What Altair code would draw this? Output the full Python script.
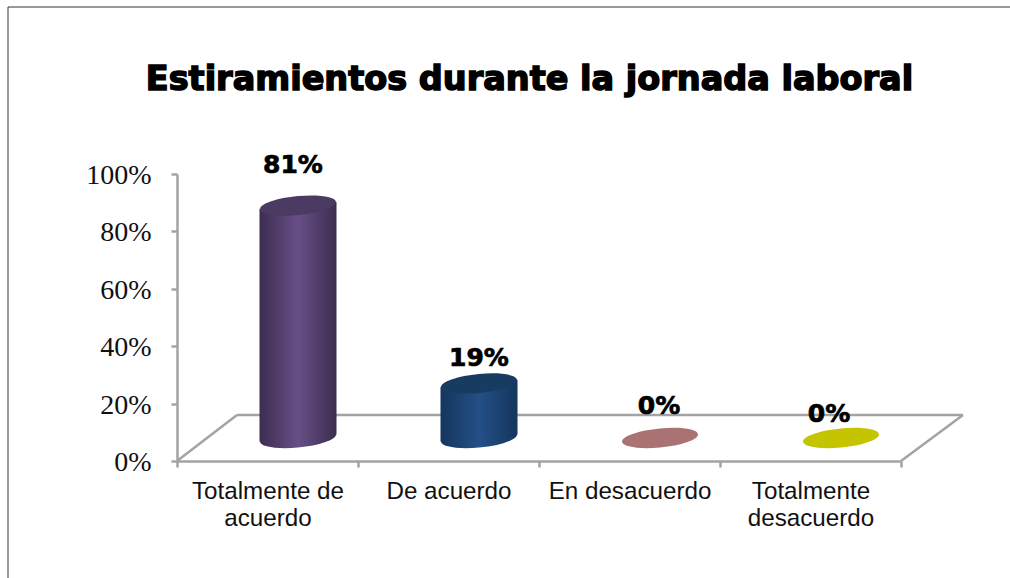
import altair as alt
import pandas as pd

categories = ["Totalmente de acuerdo", "De acuerdo", "En desacuerdo", "Totalmente desacuerdo"]
shares = [0.81, 0.19, 0.0, 0.0]
y_ticks = [0, 0.2, 0.4, 0.6, 0.8, 1.0]
title_text = "Estiramientos durante la jornada laboral"

# edge shade, centre shade and lid colour of each cylinder
edge_colors = ["#3c2d4f", "#14365e", "#a97373", "#c4c400"]
mid_colors = ["#684f88", "#245088", "#a97373", "#c4c400"]
lid_colors = ["#4b3a61", "#183b62", "#a97373", "#c4c400"]

# nudges that place each value label over its cylinder
label_dx = [25.5, 30.5, 29.5, 18.5]
label_dy = [-64, -48, -55, -47]

W, H = 724, 287
DEPTH_X, DEPTH_Y = 30.5, -23   # floor-centre shift of the pseudo-3D columns
RADIUS = 38
TILT = 3.5
GREY = "#a3a3a3"

table = pd.DataFrame({"categoria": categories, "valor": shares, "base": [0.0] * len(categories)})
x_enc = alt.X("categoria:N", sort=categories, title=None,
              scale=alt.Scale(paddingInner=0, paddingOuter=0),
              axis=alt.Axis(labelAngle=0, labelExpr="split(replace(replace(datum.label,'Totalmente de acuerdo','Totalmente de|acuerdo'),'Totalmente desacuerdo','Totalmente|desacuerdo'),'|')",
                            labelFont="Liberation Sans", labelFontSize=24.2, labelColor="#111111",
                            labelLineHeight=27, labelPadding=12, labelBaseline="top",
                            tickBand="extent", tickSize=6, tickWidth=2.5, tickColor=GREY,
                            domainColor=GREY, domainWidth=2.5, grid=False))
y_scale = alt.Scale(domain=[0, 1], nice=False)
y_axis = alt.Axis(values=y_ticks, format=".0%", labelFont="Liberation Serif",
                  labelFontSize=28, labelColor="#111111", labelPadding=20, labelOffset=1.5,
                  tickSize=6, tickWidth=2.5, tickColor=GREY,
                  domainColor=GREY, domainWidth=2.5, grid=False)
y_enc = alt.Y("valor:Q", stack=None, scale=y_scale, title=None, axis=y_axis)
y_base = alt.Y("base:Q", stack=None, scale=y_scale, title=None, axis=y_axis)


def ellipse_path():
    """Flattened, slightly tilted ellipse in the unit square used by custom symbols."""
    rx, ry, s = 1.0, 0.25, -TILT / RADIUS
    k = 0.5523
    def p(a, b):
        return f"{a * rx:.4f} {b * ry + a * rx * s:.4f}"
    return (f"M{p(-1, 0)}C{p(-1, -k)} {p(-k, -1)} {p(0, -1)}"
            f"C{p(k, -1)} {p(1, -k)} {p(1, 0)}"
            f"C{p(1, k)} {p(k, 1)} {p(0, 1)}"
            f"C{p(-k, 1)} {p(-1, k)} {p(-1, 0)}Z")


def gradient(stops):
    return alt.Gradient(gradient="linear", x1=0, x2=1, y1=0, y2=0,
                        stops=[alt.GradientStop(offset=o, color=c) for o, c in stops])


ELLIPSE = ellipse_path()
SIZE = (2 * RADIUS) ** 2
base = alt.Chart(table)
layers = []

# floor outline
floor = [
    (60, 786, 241, 241),
    (0, 60, H, 241),
    (724, 786, H, 241),
]
for x1, x2, y1, y2 in floor:
    layers.append(alt.Chart(pd.DataFrame({"k": [0]})).mark_rule(color=GREY, strokeWidth=2.5).encode(
        x=alt.value(x1), x2=alt.value(x2), y=alt.value(y1), y2=alt.value(y2)))

# page frame
frame = [(-169, -169, -167, 404), (-169, 833, -167, -167)]
for x1, x2, y1, y2 in frame:
    layers.append(alt.Chart(pd.DataFrame({"k": [0]})).mark_rule(color="#333333", strokeWidth=1).encode(
        x=alt.value(x1), x2=alt.value(x2), y=alt.value(y1), y2=alt.value(y2)))

# cylinders: base ellipse, two half-shells, lid
for i, cat in enumerate(categories):
    one = base.transform_filter(alt.datum.categoria == cat)
    edge, mid, lid = edge_colors[i], mid_colors[i], lid_colors[i]
    if shares[i] > 0:
        full = gradient([(0, edge), (0.5, mid), (1, edge)])
        layers.append(one.mark_point(shape=ELLIPSE, size=SIZE, filled=True, opacity=1, fill=full,
                                     xOffset=DEPTH_X, yOffset=DEPTH_Y).encode(x=x_enc, y=y_base))
        left = gradient([(0, edge), (1, mid)])
        right = gradient([(0, mid), (1, edge)])
        for shade, side in ((left, -1), (right, 1)):
            layers.append(one.mark_bar(width=RADIUS + 1, fill=shade,
                                       xOffset=DEPTH_X + side * (RADIUS / 2),
                                       yOffset=DEPTH_Y - side * TILT,
                                       y2Offset=DEPTH_Y - side * TILT).encode(
                x=x_enc, y=y_enc, y2=alt.datum(0)))
    layers.append(one.mark_point(shape=ELLIPSE, size=SIZE, filled=True, opacity=1, fill=lid,
                                 xOffset=DEPTH_X, yOffset=DEPTH_Y).encode(x=x_enc, y=y_enc))

# value labels
for i, cat in enumerate(categories):
    layers.append(base.transform_filter(alt.datum.categoria == cat).mark_text(
        font="DejaVu Sans", fontWeight="bold", fontSize=25, color="black", stroke="black",
        strokeWidth=0.7, dx=label_dx[i], dy=label_dy[i]).encode(
        x=x_enc, y=y_enc, text=alt.Text("valor:Q", format=".0%")))

# heading
layers.append(alt.Chart(pd.DataFrame({"t": [title_text]})).mark_text(
    font="DejaVu Sans", fontWeight="bold", fontSize=33.5, color="black", stroke="black",
    strokeWidth=1.5).encode(x=alt.value(352.5), y=alt.value(-94), text="t:N"))

chart = alt.layer(*layers).properties(
    width=W, height=H, background="white",
    padding={"left": 177, "top": 174, "right": 109, "bottom": 117},
    autosize=alt.AutoSizeParams(type="none"),
).configure_view(stroke=None)

chart.save("out.html", embed_options={"renderer": "svg", "actions": False})
